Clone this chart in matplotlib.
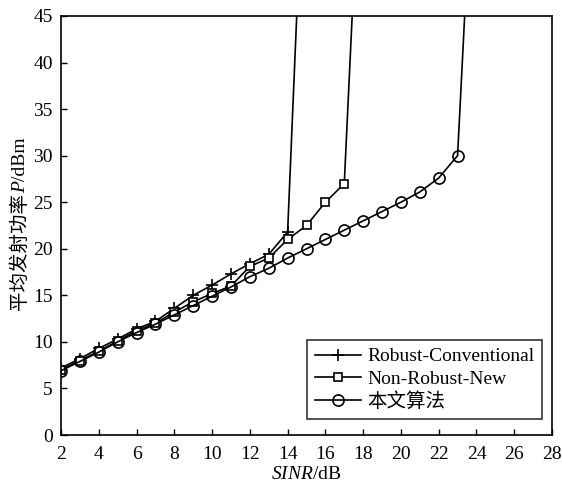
import numpy as np
import matplotlib
matplotlib.use('Agg')
import matplotlib.pyplot as plt

plt.rcParams['font.family'] = ['Liberation Serif', 'Noto Sans CJK SC']
plt.rcParams['mathtext.fontset'] = 'custom'
plt.rcParams['mathtext.rm'] = 'Liberation Serif'
plt.rcParams['mathtext.it'] = 'Liberation Serif:italic'

# data (last point of each curve lies above the plot top)
x_rc = [2, 3, 4, 5, 6, 7, 8, 9, 10, 11, 12, 13, 14, 15]
y_rc = [7.2, 8.2, 9.3, 10.3, 11.4, 12.2, 13.6, 15.0, 16.1, 17.3, 18.4, 19.4, 21.8, 70]

x_nrn = [2, 3, 4, 5, 6, 7, 8, 9, 10, 11, 12, 13, 14, 15, 16, 17, 18]
y_nrn = [7.0, 8.0, 9.0, 10.1, 11.2, 12.0, 13.2, 14.3, 15.2, 16.0, 18.1, 19.0, 21.0, 22.5, 25.0, 27.0, 70]

x_new = [2, 3, 4, 5, 6, 7, 8, 9, 10, 11, 12, 13, 14, 15, 16, 17, 18, 19, 20, 21, 22, 23, 24]
y_new = [6.9, 7.9, 8.9, 10.0, 11.0, 11.9, 12.9, 13.9, 14.9, 15.9, 17.0, 17.9, 19.0, 20.0,
         21.0, 22.0, 23.0, 24.0, 25.0, 26.1, 27.6, 30.0, 70]

labels = ['Robust-Conventional', 'Non-Robust-New', '本文算法']
ylab_parts = [('平均发射功率', 'normal'), ('P', 'italic'), ('/dBm', 'normal')]

fs = 14
fig = plt.figure(figsize=(5.62, 4.84), dpi=100)
ax = fig.add_axes([61 / 562, 1 - 435 / 484, 491 / 562, 419 / 484])

ax.plot(x_rc, y_rc, color='black', lw=1.2, marker='+', ms=9, mew=1.2, label=labels[0])
ax.plot(x_nrn, y_nrn, color='black', lw=1.2, marker='s', ms=6, mfc='white', mew=1.2, label=labels[1])
ax.plot(x_new, y_new, color='black', lw=1.2, marker='o', ms=8, mfc='none', mew=1.2, label=labels[2])

ax.set_xlim(2, 28)
ax.set_ylim(0, 45)
ax.set_xticks(np.arange(2, 29, 2))
ax.set_yticks(np.arange(0, 46, 5))
ax.tick_params(direction='in', labelsize=fs, length=4, width=1)
ax.tick_params(axis='x', pad=8)
ax.tick_params(axis='y', pad=6)
for s in ax.spines.values():
    s.set_linewidth(1.2)

ax.set_xlabel('$SINR$/dB', fontsize=fs, labelpad=2)

# y label built from pieces so the Chinese text can fall back to the CJK font
renderer = fig.canvas.get_renderer()
pieces = []
for txt, st in ylab_parts:
    t = fig.text(0, 0, txt, rotation=90, rotation_mode='anchor', ha='left', va='baseline',
                 fontsize=fs, style=st, transform=None)
    pieces.append(t)
lens = [t.get_window_extent(renderer).height for t in pieces]
ax_bb = ax.get_window_extent(renderer)
y0 = (ax_bb.y0 + ax_bb.y1) / 2 - sum(lens) / 2 + 2
xb = 25
for t, L in zip(pieces, lens):
    t.set_position((xb, y0))
    y0 += L

leg = ax.legend(loc='lower right', bbox_to_anchor=(0.98, 0.038), fontsize=fs,
                frameon=True, fancybox=False, edgecolor='black', handlelength=2.4,
                borderpad=0.4, labelspacing=0.25, handletextpad=0.3, borderaxespad=0)
leg.get_frame().set_linewidth(1.2)

fig.savefig('out.png', dpi=100)
